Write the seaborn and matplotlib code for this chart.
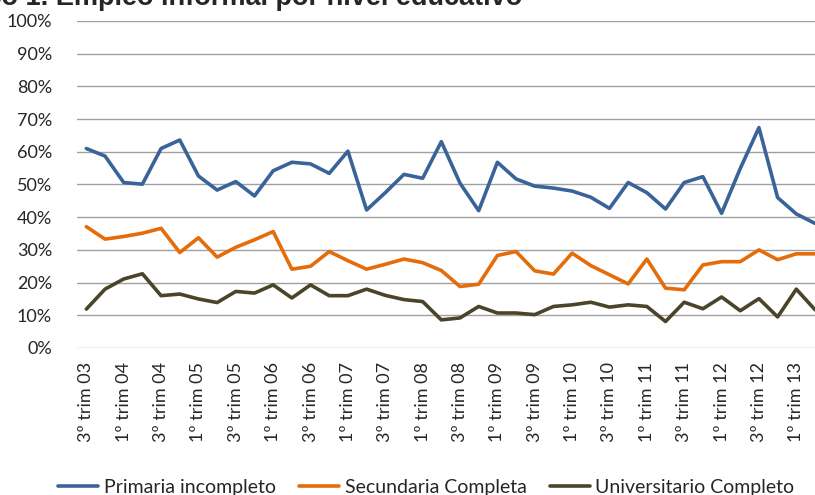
import pandas as pd
import matplotlib
matplotlib.use("Agg")
import matplotlib.pyplot as plt
import seaborn as sns
from matplotlib.ticker import PercentFormatter

# quarterly labels, 3º trim 03 .. 2º trim 13
quarters = [
    "3º trim 03", "4º trim 03", "1º trim 04", "2º trim 04", "3º trim 04", "4º trim 04",
    "1º trim 05", "2º trim 05", "3º trim 05", "4º trim 05", "1º trim 06", "2º trim 06",
    "3º trim 06", "4º trim 06", "1º trim 07", "2º trim 07", "3º trim 07", "4º trim 07",
    "1º trim 08", "2º trim 08", "3º trim 08", "4º trim 08", "1º trim 09", "2º trim 09",
    "3º trim 09", "4º trim 09", "1º trim 10", "2º trim 10", "3º trim 10", "4º trim 10",
    "1º trim 11", "2º trim 11", "3º trim 11", "4º trim 11", "1º trim 12", "2º trim 12",
    "3º trim 12", "4º trim 12", "1º trim 13", "2º trim 13",
]

primaria = [61.0, 58.7, 50.6, 50.1, 61.0, 63.6, 52.6, 48.3, 50.9, 46.5,
            54.2, 56.8, 56.3, 53.4, 60.2, 42.2, 47.5, 53.1, 51.9, 63.1,
            50.4, 42.0, 56.8, 51.7, 49.5, 48.9, 48.0, 46.1, 42.7, 50.6,
            47.5, 42.5, 50.6, 52.4, 41.2, 54.9, 67.4, 46.0, 41.0, 38.1]

secundaria = [37.1, 33.3, 34.1, 35.1, 36.6, 29.2, 33.7, 27.8, 30.8, 33.1,
              35.6, 24.1, 25.0, 29.5, 26.7, 24.1, 25.6, 27.2, 26.1, 23.7,
              18.8, 19.5, 28.3, 29.5, 23.6, 22.6, 29.0, 25.2, 22.4, 19.6,
              27.2, 18.3, 17.8, 25.4, 26.4, 26.4, 30.0, 27.0, 28.8, 28.8]

universitario = [11.9, 18.0, 21.1, 22.7, 16.0, 16.5, 15.0, 13.9, 17.3, 16.8,
                 19.3, 15.3, 19.3, 16.0, 16.0, 18.0, 16.1, 14.8, 14.2, 8.6,
                 9.2, 12.7, 10.7, 10.7, 10.2, 12.7, 13.2, 14.0, 12.5, 13.2,
                 12.7, 8.1, 14.0, 12.0, 15.6, 11.4, 15.1, 9.5, 18.0, 11.7]

series_names = ["Primaria incompleto", "Secundaria Completa", "Universitario Completo"]
colors = ["#3A6499", "#E46C0A", "#4A4529"]

df = pd.DataFrame({
    "idx": list(range(len(quarters))) * 3,
    "valor": primaria + secundaria + universitario,
    "serie": [series_names[0]] * len(primaria)
             + [series_names[1]] * len(secundaria)
             + [series_names[2]] * len(universitario),
})

sns.set_theme(style="white")
plt.rcParams["font.family"] = ["Lato", "DejaVu Sans"]

fig = plt.figure(figsize=(8.15, 4.95), dpi=100)
ax = fig.add_axes([77 / 815, 1 - 348 / 495, (815 - 77) / 815, (348 - 21) / 495])

sns.lineplot(data=df, x="idx", y="valor", hue="serie", palette=colors,
             linewidth=2.6, ax=ax, legend=False)

ax.set_xlim(-0.5, 39.0)
ax.set_ylim(0, 100)
ax.set_yticks(range(0, 101, 10))
ax.yaxis.set_major_formatter(PercentFormatter(decimals=0))
ax.grid(axis="y", color="#A0A0A0", linewidth=1.0)
ax.set_axisbelow(True)
for s in ax.spines.values():
    s.set_visible(False)

ax.set_xticks(range(0, len(quarters), 2))
ax.set_xticklabels(quarters[::2], rotation=90, va="top", ha="center")
ax.tick_params(axis="x", length=0, pad=10, labelsize=13)
ax.tick_params(axis="y", length=0, pad=18, labelsize=13)
ax.set_xlabel("")
ax.set_ylabel("")

handles = [plt.Line2D([], [], color=c, linewidth=2.6) for c in colors]
fig.legend(handles, series_names, loc="center", bbox_to_anchor=(0.523, 0.016),
           ncol=3, frameon=False, fontsize=14, handlelength=2.05,
           columnspacing=1.2, handletextpad=0.3)

# the title is cut by the top edge, as in the original
fig.text(522 / 815, 1 - 5 / 495, "Gráfico 1. Empleo informal por nivel educativo",
         ha="right", va="baseline", fontsize=19.5, fontweight="bold",
         family=["Liberation Sans", "DejaVu Sans"])

fig.savefig("out.png", dpi=100)
